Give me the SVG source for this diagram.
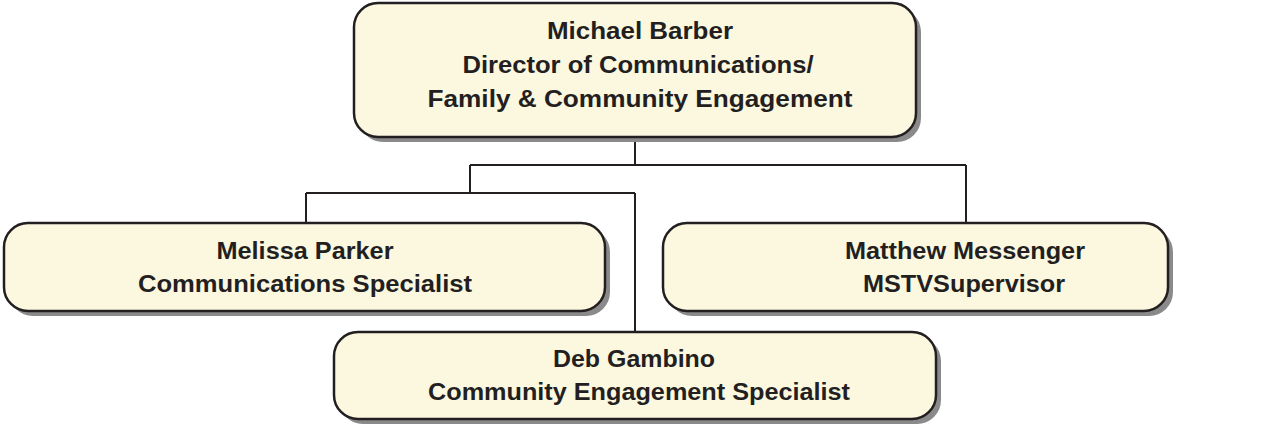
<svg xmlns="http://www.w3.org/2000/svg" width="1268" height="425" viewBox="0 0 1268 425">
<defs>
<style>
.shadow{fill:#8a8a8a;}
.box{fill:#fcf8e0;stroke:#231f20;stroke-width:2.5;}
.t{font-family:"Liberation Sans",Arial,sans-serif;font-weight:bold;font-size:23px;fill:#231f20;text-anchor:middle;}
.c{fill:none;stroke:#231f20;stroke-width:2;}
</style>
</defs>
<rect width="1268" height="425" fill="#ffffff"/>
<g id="connectors">
<polyline class="c" points="635,137 635,165"/>
<polyline class="c" points="470,165 966,165"/>
<polyline class="c" points="966,165 966,223"/>
<polyline class="c" points="470,165 470,193"/>
<polyline class="c" points="306,193 635,193"/>
<polyline class="c" points="306,193 306,223"/>
<polyline class="c" points="635,193 635,332"/>
</g>
<g id="node-michael">
<rect class="shadow" x="359" y="8" width="562" height="134" rx="24"/>
<rect class="box" x="354" y="3" width="562" height="134" rx="24"/>
<text class="t" x="640" y="39" textLength="186" lengthAdjust="spacingAndGlyphs">Michael Barber</text>
<text class="t" x="638" y="73" textLength="351" lengthAdjust="spacingAndGlyphs">Director of Communications/</text>
<text class="t" x="640" y="107" textLength="425" lengthAdjust="spacingAndGlyphs">Family &amp; Community Engagement</text>
</g>
<g id="node-melissa">
<rect class="shadow" x="9" y="228" width="601" height="88" rx="24"/>
<rect class="box" x="4" y="223" width="601" height="88" rx="24"/>
<text class="t" x="305" y="259" textLength="177" lengthAdjust="spacingAndGlyphs">Melissa Parker</text>
<text class="t" x="305" y="292" textLength="334" lengthAdjust="spacingAndGlyphs">Communications Specialist</text>
</g>
<g id="node-matthew">
<rect class="shadow" x="668" y="228" width="505" height="88" rx="24"/>
<rect class="box" x="663" y="223" width="505" height="88" rx="24"/>
<text class="t" x="965" y="259" textLength="240" lengthAdjust="spacingAndGlyphs">Matthew Messenger</text>
<text class="t" x="964" y="292" textLength="202" lengthAdjust="spacingAndGlyphs">MSTVSupervisor</text>
</g>
<g id="node-deb">
<rect class="shadow" x="339" y="337" width="602" height="87" rx="24"/>
<rect class="box" x="334" y="332" width="602" height="87" rx="24"/>
<text class="t" x="634" y="367" textLength="162" lengthAdjust="spacingAndGlyphs">Deb Gambino</text>
<text class="t" x="639" y="400" textLength="422" lengthAdjust="spacingAndGlyphs">Community Engagement Specialist</text>
</g>
</svg>
